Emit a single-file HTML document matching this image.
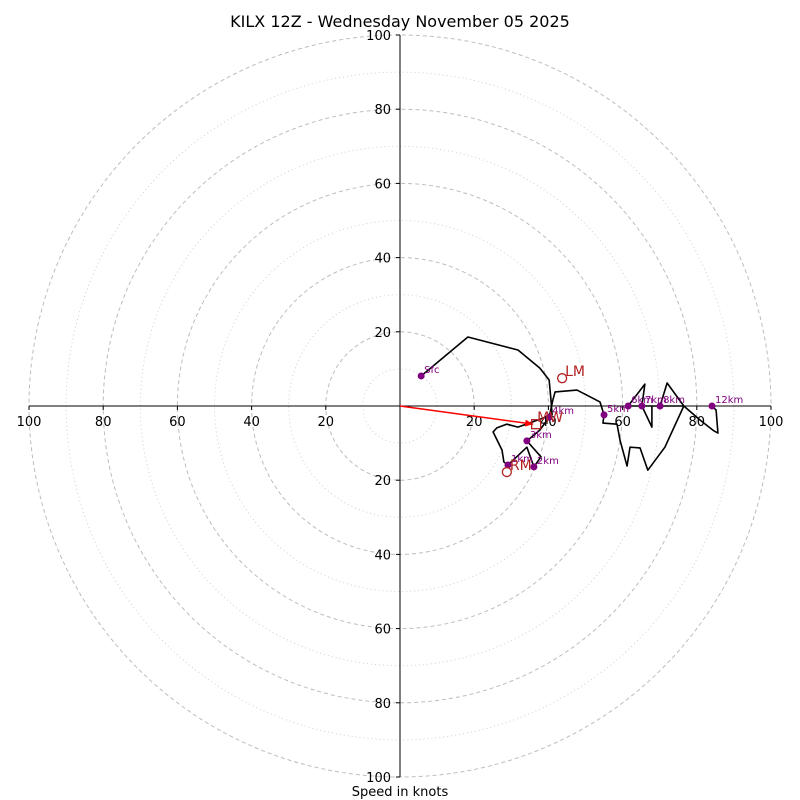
<!DOCTYPE html>
<html><head><meta charset="utf-8"><style>
body{margin:0;background:#fff}
svg{display:block;font-family:"DejaVu Sans","Liberation Sans",sans-serif}
</style></head><body>
<svg id="chart" width="800" height="800" viewBox="0 0 800 800"></svg>
<script>
// data (knots)
const ringsMajor = [20, 40, 60, 80, 100];
const ringsMinor = [10, 30, 50, 70, 90];
const tickValues = [20, 40, 60, 80, 100];
const hodoU = [5.7,18.3,31.8,37.7,40.2,40.7,41.0,31.8,28.8,26.1,25.1,27.5,28.0,29.1,34.2,36.1,38.0,34.2,37.7,40.2,41.2,41.8,47.7,53.9,55.0,54.7,58.5,59.3,61.2,62.0,64.7,66.8,71.4,76.5,61.5,66.0,65.2,67.9,67.9,70.1,72.0,76.5,80.9,84.6,85.7,85.2,84.1];
const hodoV = [8.1,18.6,15.1,10.2,7.0,1.6,-2.4,-5.7,-4.9,-5.9,-7.0,-11.9,-15.1,-15.9,-11.1,-16.4,-13.7,-9.4,-6.5,-3.0,1.6,3.8,4.3,1.1,-2.4,-4.6,-4.9,-9.2,-16.2,-11.1,-11.3,-17.3,-11.1,0,0,5.9,0,-5.7,0,0,6.2,0,-3.8,-6.7,-7.3,-1.1,0];
const heightLabels = ["Sfc","1km","2km","3km","4km","5km","6km","7km","8km","12km"];
const heightU = [5.7,29.1,36.1,34.2,40.2,55.0,61.5,65.2,70.1,84.1];
const heightV = [8.1,-15.9,-16.4,-9.4,-3.0,-2.4,0,0,0,0];
const motionLabels = ["LM","RM"];
const motionU = [43.7,28.8];
const motionV = [7.5,-17.8];
const meanWind = [36.7,-4.9];
const stormArrow = [35.9,-4.9];

const CX=400, CY=406, S=3.71;
const sx=u=>CX+u*S, sy=v=>CY-v*S;
const svg=document.getElementById('chart');
const NS='http://www.w3.org/2000/svg';
function mk(tag,attrs,parent){const e=document.createElementNS(NS,tag);for(const k in attrs)e.setAttribute(k,attrs[k]);(parent||svg).appendChild(e);return e;}

ringsMinor.forEach(r=>{
  const c=mk('circle',{cx:CX,cy:CY,r:r*S,fill:'none',stroke:'#cfcfcf','stroke-width':1,'stroke-dasharray':'1,3'});
  
  
});
ringsMajor.forEach(r=>{
  const c=mk('circle',{cx:CX,cy:CY,r:r*S,fill:'none',stroke:'#bdbdbd','stroke-width':1,'stroke-dasharray':'4,3'});
  
  
});
const xa=mk('line',{x1:sx(-100),y1:CY,x2:sx(100),y2:CY,stroke:'#000','stroke-width':1});


const ya=mk('line',{x1:CX,y1:sy(100),x2:CX,y2:sy(-100),stroke:'#000','stroke-width':1});



tickValues.forEach(t=>{
  [-1,1].forEach(s=>{
    const x=sx(s*t);
    mk('line',{x1:x,y1:CY,x2:x,y2:CY+4,stroke:'#000'});
    const tx=mk('text',{x:x,y:CY+20,'text-anchor':'middle','font-size':13});
    tx.textContent=t;
    
    
    const y=sy(s*t);
    mk('line',{x1:CX-4,y1:y,x2:CX,y2:y,stroke:'#000'});
    const ty=mk('text',{x:CX-9,y:y+5,'text-anchor':'end','font-size':13});
    ty.textContent=t;
    
    
  });
});

const pts=hodoU.map((u,i)=>sx(u)+','+sy(hodoV[i])).join(' ');
const hl=mk('polyline',{points:pts,fill:'none',stroke:'#000','stroke-width':1.6,'stroke-linejoin':'round'});



const ax=sx(stormArrow[0]), ay=sy(stormArrow[1]);
const ar=mk('line',{x1:CX,y1:CY,x2:ax,y2:ay,stroke:'red','stroke-width':1.5});


const ang=Math.atan2(ay-CY,ax-CX);
const hx=ax,hy=ay,L=8,W=3.5;
const bx=hx-L*Math.cos(ang), by=hy-L*Math.sin(ang);
const ah=mk('polygon',{points:`${hx},${hy} ${bx-W*Math.sin(ang)},${by+W*Math.cos(ang)} ${bx+W*Math.sin(ang)},${by-W*Math.cos(ang)}`,fill:'red'});



heightLabels.forEach((lab,i)=>{
  const x=sx(heightU[i]), y=sy(heightV[i]);
  const d=mk('circle',{cx:x,cy:y,r:3.5,fill:'#800080'});
  
  
  const t=mk('text',{x:x+3,y:y-3,'font-size':10,fill:'#800080'});
  t.textContent=lab;
  
  
});

motionLabels.forEach((lab,i)=>{
  const x=sx(motionU[i]), y=sy(motionV[i]);
  const c=mk('circle',{cx:x,cy:y,r:4.5,fill:'none',stroke:'#b22222','stroke-width':1.3});
  
  
  const t=mk('text',{x:x+3,y:y-2,'font-size':14,fill:'#b22222'});
  t.textContent=lab;
  
  
});
const mx=sx(meanWind[0]), my=sy(meanWind[1]);
const sq=mk('rect',{x:mx-4.5,y:my-4.5,width:9,height:9,fill:'none',stroke:'#b22222','stroke-width':1.3});


const mwt=mk('text',{x:mx+1,y:my-2,'font-size':14,fill:'#b22222'});
mwt.textContent='MW';



const title=mk('text',{x:400,y:27,'text-anchor':'middle','font-size':16});
title.textContent='KILX 12Z - Wednesday November 05 2025';


const xl=mk('text',{x:400,y:796,'text-anchor':'middle','font-size':13});
xl.textContent='Speed in knots';


</script>
</body></html>
